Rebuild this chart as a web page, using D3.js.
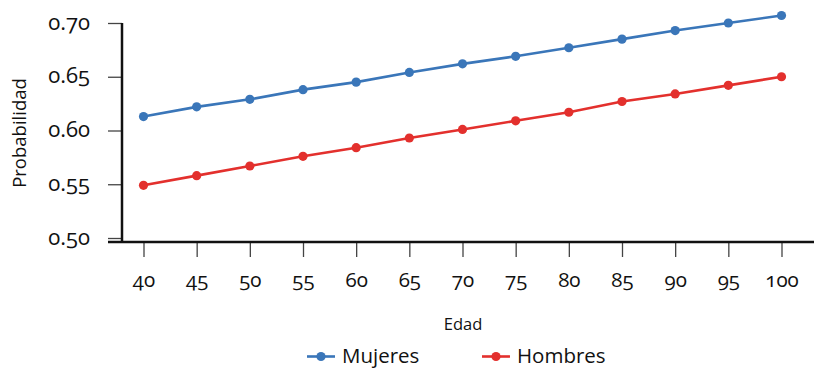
<!DOCTYPE html>
<html>
<head>
<meta charset="utf-8">
<script src="https://cdn.jsdelivr.net/npm/d3@7"></script>
<style>
  body { margin: 0; background: #fff; }
  svg { display: block; }
  text { font-family: "Open Sans", "Noto Sans", sans-serif; fill: #111; }
  .tick text { font-variant-numeric: oldstyle-nums; font-feature-settings: "onum" 1; }
</style>
</head>
<body>
<svg id="chart" width="814" height="368"></svg>
<script>
const ages = [40, 45, 50, 55, 60, 65, 70, 75, 80, 85, 90, 95, 100];
const mujeres = [0.613, 0.622, 0.629, 0.638, 0.645, 0.654, 0.662, 0.669, 0.677, 0.685, 0.693, 0.700, 0.707];
const hombres = [0.549, 0.558, 0.567, 0.576, 0.584, 0.593, 0.601, 0.609, 0.617, 0.627, 0.634, 0.642, 0.650];
const yTicks = [0.50, 0.55, 0.60, 0.65, 0.70];
const seriesNames = ["Mujeres", "Hombres"];
const seriesColors = ["#3a76b9", "#e3302d"];

const svg = d3.select("#chart");
const x = d3.scaleLinear().domain([40, 100]).range([143.5, 781.5]);
const y = d3.scaleLinear().domain([0.5, 0.7]).range([238, 23]);
const axisY = 242, axisX = 122;

// Y axis
const gy = svg.append("g").attr("transform", `translate(${axisX},0)`)
  .call(d3.axisLeft(y).tickValues(yTicks).tickFormat(d3.format(".2f")).tickSize(14).tickPadding(18));
gy.select(".domain").remove();
gy.selectAll(".tick line").attr("stroke", "#444").attr("stroke-width", 1.3);
gy.selectAll(".tick text").attr("font-size", 22).attr("dy", "0.28em");

// X axis
const gx = svg.append("g").attr("transform", `translate(0,${axisY})`)
  .call(d3.axisBottom(x).tickValues(ages).tickFormat(d3.format("d")).tickSize(15).tickPadding(15));
gx.select(".domain").remove();
gx.selectAll(".tick line").attr("stroke", "#444").attr("stroke-width", 1.3);
gx.selectAll(".tick text").attr("font-size", 20.5);

// axis lines
svg.append("line").attr("x1", axisX).attr("x2", axisX).attr("y1", y(0.7)).attr("y2", axisY)
  .attr("stroke", "#111").attr("stroke-width", 2.5);
svg.append("line").attr("x1", 108).attr("x2", 814).attr("y1", axisY).attr("y2", axisY)
  .attr("stroke", "#111").attr("stroke-width", 2.5);

// Titles
svg.append("text").attr("transform", "translate(26,133) rotate(-90)")
  .attr("text-anchor", "middle").attr("font-size", 18.5).text("Probabilidad");
svg.append("text").attr("x", 463).attr("y", 330)
  .attr("text-anchor", "middle").attr("font-size", 16.5).text("Edad");

// Lines
const series = [mujeres, hombres];
const line = d3.line().x((d, i) => x(ages[i])).y(d => y(d));
series.forEach((vals, si) => {
  svg.append("path").datum(vals).attr("d", line)
    .attr("fill", "none").attr("stroke", seriesColors[si]).attr("stroke-width", 2.6);
  svg.selectAll(null).data(vals).enter().append("circle")
    .attr("cx", (d, i) => x(ages[i])).attr("cy", d => y(d)).attr("r", 4.6)
    .attr("fill", seriesColors[si]);
});

// Legend
const legendX = [307, 482];
seriesNames.forEach((name, i) => {
  const g = svg.append("g").attr("transform", `translate(${legendX[i]},356.5)`);
  g.append("line").attr("x1", 0).attr("x2", 28).attr("y1", 0).attr("y2", 0)
    .attr("stroke", seriesColors[i]).attr("stroke-width", 2.6);
  g.append("circle").attr("cx", 14).attr("cy", 0).attr("r", 4.6).attr("fill", seriesColors[i]);
  g.append("text").attr("x", 35).attr("y", 6.5).attr("font-size", 20.5).text(name);
});
</script>
</body>
</html>
